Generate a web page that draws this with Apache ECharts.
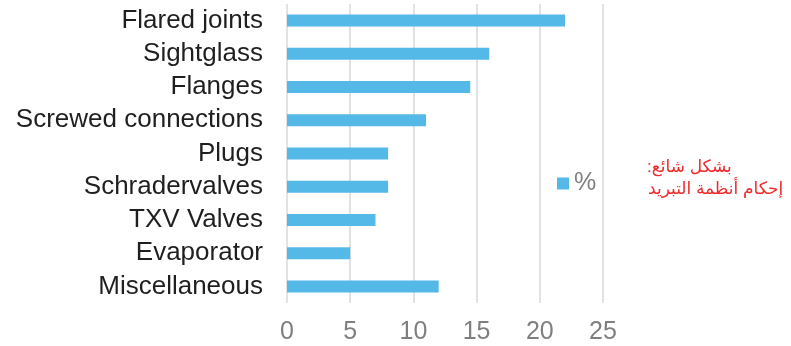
<!DOCTYPE html>
<html>
<head>
<meta charset="utf-8">
<script src="https://cdn.jsdelivr.net/npm/echarts@6/dist/echarts.min.js"></script>
<style>html,body{margin:0;padding:0;background:#fff;}#c{width:791px;height:346px;}</style>
</head>
<body>
<div id="c"></div>
<script>
const categories = ['Flared joints','Sightglass','Flanges','Screwed connections','Plugs','Schradervalves','TXV Valves','Evaporator','Miscellaneous'];
const values = [22, 16, 14.5, 11, 8, 8, 7, 5, 12];
const seriesName = '%';
const noteLine1 = 'بشكل شائع:\u200F';
const noteLine2 = 'إحكام أنظمة التبريد';

const chart = echarts.init(document.getElementById('c'), null, {renderer:'canvas'});
const font = '"Liberation Sans", Arial, "DejaVu Sans", sans-serif';
chart.setOption({
  animation: false,
  grid: {left: 287, right: 188, top: 4, bottom: 43, containLabel: false},
  legend: {
    data: [seriesName], left: 552, top: 166, icon: 'rect', itemWidth: 12, itemHeight: 12, itemGap: 6,
    textStyle: {color: '#7f7f7f', fontSize: 25, fontFamily: font}
  },
  xAxis: {
    type: 'value', min: 0, max: 25, interval: 5,
    axisLine: {show: false}, axisTick: {show: false},
    splitLine: {lineStyle: {color: '#d9d9d9', width: 1.5}},
    axisLabel: {color: '#7f7f7f', fontSize: 25, fontFamily: font, margin: 17}
  },
  yAxis: {
    type: 'category', data: categories, inverse: true,
    axisLine: {show: false}, axisTick: {show: false},
    axisLabel: {interval: 0, color: '#1f1f1f', fontSize: 26, fontFamily: font, margin: 24}
  },
  series: [{
    name: seriesName, type: 'bar', data: values, barWidth: 12,
    itemStyle: {color: '#55b9e8'}
  }],
  graphic: [
    {type: 'text', left: 647, top: 159, style: {text: noteLine1, fill: '#ee2a2a', font: '17px ' + font, textAlign: 'left'}},
    {type: 'text', left: 648, top: 181, style: {text: noteLine2, fill: '#ee2a2a', font: '17px ' + font, textAlign: 'left'}}
  ]
});
</script>
</body>
</html>
